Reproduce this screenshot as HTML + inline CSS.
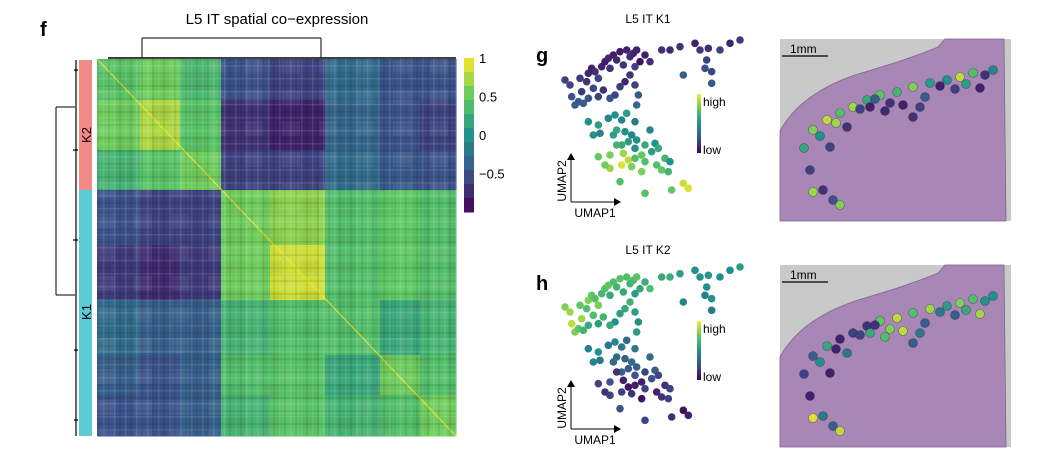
<!DOCTYPE html>
<html><head><meta charset="utf-8">
<style>
body{margin:0;background:#fff;}
svg{display:block;font-family:"Liberation Sans",Arial,sans-serif;}
</style></head>
<body>
<svg id="fig" width="1052" height="456" viewBox="0 0 1052 456" xmlns="http://www.w3.org/2000/svg">
<defs>
<pattern id="tex" x="97" y="59" width="11" height="13" patternUnits="userSpaceOnUse">
<rect x="0" y="0" width="11" height="2" fill="#000" opacity="0.08"/>
<rect x="0" y="6" width="11" height="1.5" fill="#fff" opacity="0.10"/>
<rect x="0" y="0" width="2" height="13" fill="#000" opacity="0.07"/>
<rect x="6" y="0" width="1.5" height="13" fill="#fff" opacity="0.10"/>
</pattern>
<pattern id="tex2" x="97" y="59" width="37" height="31" patternUnits="userSpaceOnUse">
<rect x="0" y="0" width="18" height="15" fill="#fff" opacity="0.07"/>
<rect x="18" y="15" width="19" height="16" fill="#000" opacity="0.06"/>
</pattern>
</defs>
<text x="40" y="36" font-size="20" font-weight="bold">f</text>
<text x="277" y="24" font-size="15" text-anchor="middle">L5 IT spatial co−expression</text>
<g id="heat"></g>
<rect x="97" y="59" width="359" height="377" fill="url(#tex2)"/>
<rect x="97" y="59" width="359" height="377" fill="url(#tex)"/>
<g id="dendro" stroke="#000" stroke-width="1" fill="none">
<path d="M56,107 L56,295 M56,107 L75,107 M56,295 L75,295"/>
<path d="M76,60 L76,436 M74,70 L78,70 M73,150 L78,150 M73,240 L78,240 M74,350 L78,350 M74,420 L78,420" stroke-width="1.2"/>
<path d="M142,38 L321,38 M142,38 L142,58 M321,38 L321,58"/>
<path d="M108,58 L456,58" stroke-width="1.4"/>
</g>
<rect x="79" y="60" width="13" height="130" fill="#f28a86"/>
<rect x="79" y="190" width="13" height="246" fill="#5ccbd3"/>
<text transform="translate(91,135) rotate(-90)" font-size="13" text-anchor="middle">K2</text>
<text transform="translate(91,312) rotate(-90)" font-size="13" text-anchor="middle">K1</text>
<g id="cbar"></g>

<text x="536" y="62" font-size="20" font-weight="bold">g</text>
<text x="648" y="23" font-size="12" text-anchor="middle">L5 IT K1</text>
<text x="536" y="290" font-size="20" font-weight="bold">h</text>
<text x="648" y="254" font-size="12" text-anchor="middle">L5 IT K2</text>
<g id="umapG"></g>
<g id="umapH"></g>
<g id="tisG"></g>
<g id="tisH"></g>
</svg>
<script>
const heatRowBreaks = [0, 41, 91, 131, 186, 241, 296, 336, 377];
const heatColBreaks = [0, 43, 83, 124, 173, 228, 283, 323, 359];
const heatValues = [
 [0.45, 0.55, 0.35, -0.5, -0.6, -0.3, -0.5, -0.5],
 [0.55, 0.75, 0.45, -0.7, -0.8, -0.35, -0.5, -0.6],
 [0.3, 0.45, 0.55, -0.6, -0.6, -0.3, -0.45, -0.5],
 [-0.5, -0.6, -0.6, 0.55, 0.65, 0.4, 0.5, 0.4],
 [-0.65, -0.75, -0.65, 0.55, 0.85, 0.4, 0.5, 0.4],
 [-0.3, -0.4, -0.4, 0.3, 0.4, 0.4, 0.2, 0.3],
 [-0.4, -0.5, -0.4, 0.4, 0.45, 0.2, 0.55, 0.4],
 [-0.5, -0.5, -0.4, 0.3, 0.45, 0.3, 0.4, 0.55]
];
const cbarTicks = [1, 0.5, 0, -0.5];
const cbarLabels = ["1", "0.5", "0", "−0.5"];

const umap1 = [3,4.5,5,6,7,8,9.5,10,11,12,13,14,15,16,16.5,17.5,18.5,19.5,20.5,21.5,22.5,23.5,24.5,25.5,27,28.5,24,22.5,21,19.5,18,16.5,14.5,13,11.5,10,8.5,7.5,24,25,24.5,32,34.5,37.5,42,43.5,46,49.5,52.5,55.5,38.5,45.5,45,47,47,
 10,13,13.5,11.5,16,18,20,21.5,24,18.5,21,23,24.5,28.5,30,22,24,20,17.5,
 13,16.5,18.5,20.5,22,24,27,26,20,23,27,29,31,33,34.5,30.5,32,34,26,19.5,27,35,38.5,40,16.5,15];
const umap2 = [36.5,35,31.5,29,30,33,36,38.5,40,39,37,40.5,42,43,40,44,42.5,45,41,45.5,43.5,44.5,45.5,42,44,42,40.5,38,36,34.5,32,31,33.5,31.5,34,31,29.5,37,35,32,29,45.5,45.5,46.5,47.5,45.5,46,45.5,47.5,48.5,38,42.5,40,39,35.5,
 24,23,20.5,20,25,26,24.5,26.5,24,21.5,21,20,18.5,21.5,17.5,18,16,17,20,
 13.5,14,17,14.5,12.5,13,17,14,11,10.5,12,15,16,13,12,11,9.5,9,9,6,2.5,3.5,5.5,4,10,11];
const k1Score = [0.2,0.22,0.25,0.3,0.28,0.18,0.15,0.12,0.1,0.14,0.2,0.1,0.08,0.12,0.15,0.1,0.12,0.08,0.15,0.1,0.14,0.12,0.1,0.05,0.1,0.15,0.2,0.15,0.12,0.18,0.2,0.25,0.15,0.2,0.22,0.25,0.3,0.18,0.2,0.28,0.35,0.15,0.12,0.15,0.1,0.18,0.14,0.2,0.12,0.18,0.3,0.2,0.25,0.22,0.28,
 0.5,0.55,0.45,0.5,0.45,0.5,0.45,0.55,0.4,0.6,0.5,0.45,0.5,0.45,0.5,0.55,0.5,0.6,0.55,
 0.75,0.8,0.65,0.85,0.9,0.7,0.6,0.75,0.95,0.8,0.7,0.55,0.6,0.65,0.5,0.7,0.75,0.65,0.8,0.7,0.72,0.75,0.92,0.95,0.85,0.78];
const k2Score = [0.8,0.85,0.9,0.8,0.75,0.85,0.7,0.8,0.75,0.7,0.8,0.65,0.7,0.75,0.6,0.7,0.65,0.72,0.6,0.7,0.65,0.68,0.72,0.6,0.62,0.7,0.55,0.65,0.6,0.55,0.5,0.6,0.65,0.55,0.7,0.6,0.65,0.75,0.55,0.5,0.55,0.6,0.62,0.55,0.5,0.5,0.52,0.5,0.48,0.55,0.45,0.5,0.45,0.5,0.4,
 0.45,0.5,0.4,0.45,0.4,0.45,0.4,0.35,0.4,0.35,0.3,0.35,0.3,0.35,0.3,0.28,0.25,0.3,0.35,
 0.2,0.25,0.15,0.1,0.05,0.1,0.2,0.1,0.2,0.15,0.2,0.25,0.2,0.15,0.2,0.1,0.15,0.2,0.05,0.25,0.2,0.15,0.05,0.1,0.2,0.15];

const tisX = [24,33,47,60,73,87,100,117,133,150,167,180,193,213,50,67,90,110,123,140,200,133,43,53,60,33,30,40,56,80,95,105,160,175,186,205,145];
const tisY = [109,91,81,74,68,61,56,53,48,44,41,38,34,31,108,88,68,64,66,68,49,78,151,161,166,153,131,97,84,70,60,72,47,50,45,36,58];
const tisK1 = [0.6,0.8,0.9,0.7,0.85,0.6,0.75,0.65,0.8,0.55,0.5,0.9,0.7,0.45,0.2,0.15,0.1,0.15,0.1,0.2,0.1,0.15,0.15,0.25,0.8,0.85,0.2,0.5,0.85,0.2,0.3,0.12,0.1,0.2,0.55,0.15,0.3];
const tisK2 = [0.2,0.3,0.6,0.1,0.2,0.15,0.75,0.9,0.7,0.85,0.55,0.8,0.7,0.5,0.1,0.4,0.6,0.8,0.9,0.4,0.85,0.3,0.4,0.3,0.9,0.95,0.1,0.5,0.1,0.2,0.15,0.7,0.4,0.3,0.6,0.5,0.3];

const NS = "http://www.w3.org/2000/svg";
const vir = [[68,1,84],[59,82,139],[33,145,140],[94,201,98],[253,231,37]];
function viridis(t){t=Math.max(0,Math.min(1,t));const s=t*4,i=Math.min(3,Math.floor(s)),f=s-i;
 const c=vir[i].map((a,k)=>Math.round(a+(vir[i+1][k]-a)*f));return `rgb(${c[0]},${c[1]},${c[2]})`;}
function mk(tag,attrs,parent){const e=document.createElementNS(NS,tag);for(const k in attrs)e.setAttribute(k,attrs[k]);parent.appendChild(e);return e;}

const HX0=97,HX1=456,HY0=59,HY1=436;
const hx = i => HX0 + i/heatColBreaks[heatColBreaks.length-1]*(HX1-HX0);
const hy = i => HY0 + i/heatRowBreaks[heatRowBreaks.length-1]*(HY1-HY0);
const heatColor = v => viridis((v+1)/2);
const heat=document.getElementById('heat');
for(let r=0;r<heatValues.length;r++){
 for(let c=0;c<heatValues[r].length;c++){
  const e=mk('rect',{x:hx(heatColBreaks[c]),y:hy(heatRowBreaks[r]),width:hx(heatColBreaks[c+1])-hx(heatColBreaks[c])+0.5,height:hy(heatRowBreaks[r+1])-hy(heatRowBreaks[r])+0.5,fill:heatColor(heatValues[r][c])},heat);
  
  
 }
}
const diag=mk('line',{x1:HX0,y1:HY0,x2:HX1,y2:HY1,stroke:heatColor(1),'stroke-width':1.2,opacity:0.8},heat);



const cb=document.getElementById('cbar');
const CBY0=58,CBY1=212;
const cby = v => CBY0 + (1-v)/2*(CBY1-CBY0);
const nb=11;
for(let i=0;i<nb;i++){
 const v1=1-i*2/nb, v2=1-(i+1)*2/nb;
 const e=mk('rect',{x:464,y:cby(v1),width:10,height:cby(v2)-cby(v1)+0.5,fill:heatColor((v1+v2)/2)},cb);
 
 
}
cbarTicks.forEach((v,i)=>{
 const t=mk('text',{x:479,y:cby(v)+5,'font-size':13},cb);t.textContent=cbarLabels[i];
 
 
});

function umap(gid,scores,dy){
 const g=document.getElementById(gid);
 const ux=u=>555+u*10/3, uy=v=>35+dy+(500-v*10)/3;
 for(let i=0;i<umap1.length;i++){
  const c=mk('circle',{cx:ux(umap1[i]),cy:uy(umap2[i]),r:3.8,fill:viridis(scores[i])},g);
  
  
 }
 const ax=mk('path',{d:`M571,${202+dy} L571,${157+dy} M571,${202+dy} L617,${202+dy}`,stroke:'#000','stroke-width':1,fill:'none'},g);
 
 
 const ah=mk('path',{d:`M567,${160+dy} L571,${153+dy} L575,${160+dy}Z M614,${198+dy} L621,${202+dy} L614,${206+dy}Z`,fill:'#000'},g);
 
 
 const t2=mk('text',{transform:`translate(566,${181+dy}) rotate(-90)`,'font-size':12,'text-anchor':'middle'},g);t2.textContent='UMAP2';
 
 
 const t1=mk('text',{x:595,y:217+dy,'font-size':12,'text-anchor':'middle'},g);t1.textContent='UMAP1';
 
 
 const defsId='lg'+gid;
 const defs=mk('defs',{},g);const lg=mk('linearGradient',{id:defsId,x1:0,y1:1,x2:0,y2:0},defs);
 [0,0.25,0.5,0.75,1].forEach(o=>mk('stop',{offset:o,'stop-color':viridis(o)},lg));
 const lb=mk('rect',{x:697,y:94+dy,width:4,height:59,fill:`url(#${defsId})`},g);
 
 
 const hi=mk('text',{x:703,y:106+dy,'font-size':12},g);hi.textContent='high';
 
 
 const lo=mk('text',{x:703,y:154+dy,'font-size':12},g);lo.textContent='low';
 
 
}
umap('umapG',k1Score,0);
umap('umapH',k2Score,227);

function tissue(gid,scores,y0){
 const g=document.getElementById(gid);
 const x0=780,w=231,h=182;
 const bg=mk('rect',{x:x0,y:y0,width:w,height:h,fill:'#c9c9c9'},g);
 
 
 const p=mk('path',{d:`M${x0},${y0+h} L${x0},${y0+92} Q${x0+20},${y0+55} ${x0+75},${y0+36} Q${x0+130},${y0+20} ${x0+158},${y0+8} L${x0+165},${y0} L${x0+224},${y0} L${x0+226},${y0+h} Z`,fill:'#a886b6',stroke:'#7e6290','stroke-width':0.8},g);
 
 
 const sb=mk('line',{x1:x0+2,y1:y0+17,x2:x0+48,y2:y0+17,stroke:'#000','stroke-width':1.3},g);
 
 
 const st=mk('text',{x:x0+10,y:y0+14,'font-size':12},g);st.textContent='1mm';
 
 
 for(let i=0;i<tisX.length;i++){
  const c=mk('circle',{cx:x0+tisX[i],cy:y0+tisY[i],r:4.5,fill:viridis(scores[i]),stroke:'rgba(40,20,60,0.5)','stroke-width':0.6},g);
  
  
 }
}
tissue('tisG',tisK1,39);
tissue('tisH',tisK2,265);
</script>
</body></html>
